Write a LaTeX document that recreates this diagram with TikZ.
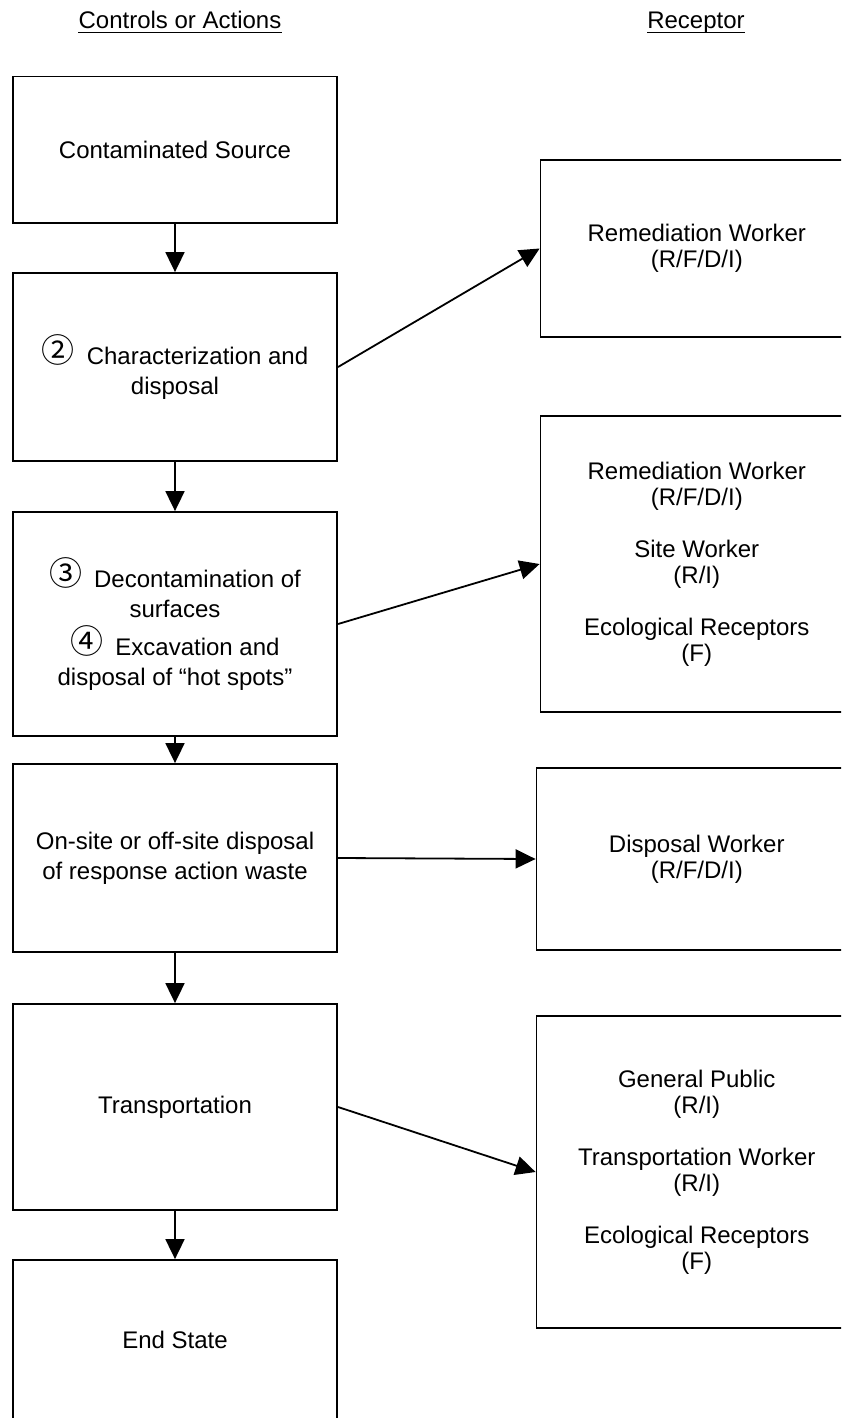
\documentclass[tikz,border=0pt]{standalone}
\usepackage{fontspec}
\setmainfont{Liberation Sans}
\newfontfamily\circfont{Noto Sans CJK JP}
\usetikzlibrary{arrows.meta}
\newcommand{\cnum}[1]{\raisebox{2pt}{\circfont\fontsize{33}{30}\selectfont #1}\hspace{12pt}}
\begin{document}
\begin{tikzpicture}[x=1pt,y=-1pt,
  every node/.style={font=\fontsize{24}{26}\selectfont, align=center, inner sep=0pt},
  hdr/.style={anchor=base},
  leftbox/.style={draw, line width=1.8pt, rectangle, minimum width=324.3pt, font=\fontsize{24}{30}\selectfont},
  rightbox/.style={draw, line width=1.8pt, rectangle},
  conn/.style={line width=1.8pt, -{Triangle[length=20pt,width=19pt]}}]
\useasboundingbox (0,0) rectangle (841,1418);
\clip (0,0) rectangle (841,1418);

% headers
\node[hdr] (h1) at (180,28.5) {Controls or Actions};
\node[hdr] (h2) at (696,28.5) {Receptor};
\draw[line width=1.2pt] ([yshift=-4pt]h1.base west) -- ([yshift=-4pt]h1.base east);
\draw[line width=1.2pt] ([yshift=-4pt]h2.base west) -- ([yshift=-4pt]h2.base east);

% left column
\node[leftbox, minimum height=146.5pt] (b1) at (175,149.75) {Contaminated Source};
\node[leftbox, minimum height=188pt] (b2) at (175,367) {\cnum{②}Characterization and\\disposal};
\node[leftbox, minimum height=224pt] (b3) at (175,624) {\cnum{③}Decontamination of\\surfaces\\[6pt]\cnum{④}Excavation and\\disposal of “hot spots”};
\node[leftbox, minimum height=188pt] (b4) at (175,858) {On-site or off-site disposal\\of response action waste};
\node[leftbox, minimum height=206pt] (b5) at (175,1107) {Transportation};
\node[leftbox, minimum height=160pt] (b6) at (175,1340) {End State};

% right column
\node[rightbox, minimum width=312.5pt, minimum height=177pt] (r1) at (696.75,248.5) {Remediation Worker\\(R/F/D/I)};
\node[rightbox, minimum width=312.5pt, minimum height=296pt] (r2) at (696.75,564) {Remediation Worker\\(R/F/D/I)\\[26pt]Site Worker\\(R/I)\\[26pt]Ecological Receptors\\(F)};
\node[rightbox, minimum width=320.5pt, minimum height=182pt] (r3) at (696.75,859) {Disposal Worker\\(R/F/D/I)};
\node[rightbox, minimum width=320.5pt, minimum height=312pt] (r4) at (696.75,1172) {General Public\\(R/I)\\[26pt]Transportation Worker\\(R/I)\\[26pt]Ecological Receptors\\(F)};

% connectors
\draw[conn] (b1.south) -- (b2.north);
\draw[conn] (b2.south) -- (b3.north);
\draw[conn] (b3.south) -- (b4.north);
\draw[conn] (b4.south) -- (b5.north);
\draw[conn] (b5.south) -- (b6.north);
\draw[conn] (b2.east) -- (r1.west);
\draw[conn] (b3.east) -- (r2.west);
\draw[conn] (b4.east) -- (r3.west);
\draw[conn] (b5.east) -- (r4.west);
\end{tikzpicture}
\end{document}
